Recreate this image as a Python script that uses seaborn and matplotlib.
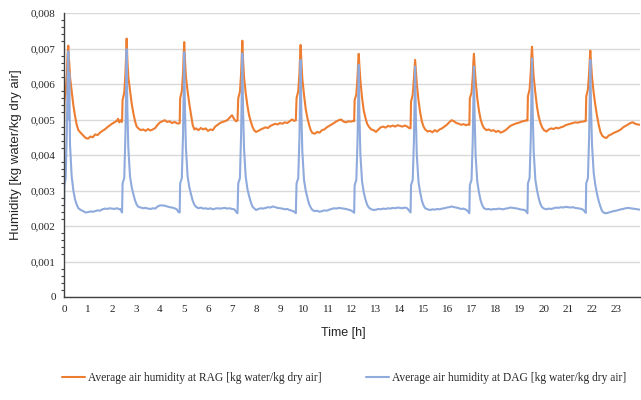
import numpy as np
import pandas as pd
import matplotlib
matplotlib.use("Agg")
import matplotlib.pyplot as plt
from matplotlib.ticker import FuncFormatter, MultipleLocator
import seaborn as sns

# time [h], humidity in g water / kg dry air (converted to kg/kg below)
hours = [
    0.00, 0.02, 0.07, 0.12, 0.15, 0.18, 0.20, 0.22, 0.25, 0.32, 0.39, 0.46, 0.53, 0.60, 0.70, 0.80,
    0.90, 1.00, 1.10, 1.20, 1.30, 1.40, 1.50, 1.60, 1.70, 1.80, 1.90, 2.00, 2.10, 2.20, 2.25, 2.30,
    2.35, 2.40, 2.42,
    2.44, 2.51, 2.56, 2.59, 2.61, 2.64, 2.68, 2.75, 2.82, 2.89, 2.96, 3.03, 3.10, 3.20, 3.30, 3.40,
    3.50, 3.60, 3.70, 3.80, 3.90, 4.00, 4.10, 4.20, 4.30, 4.40, 4.50, 4.60, 4.70, 4.76, 4.82,
    4.84, 4.91, 4.96, 4.99, 5.01, 5.04, 5.08, 5.15, 5.22, 5.29, 5.36, 5.43, 5.50, 5.60, 5.70, 5.80,
    5.90, 6.00, 6.10, 6.20, 6.30, 6.40, 6.50, 6.60, 6.70, 6.80, 6.90, 7.00, 7.10, 7.17, 7.23,
    7.26, 7.33, 7.38, 7.41, 7.43, 7.46, 7.50, 7.57, 7.64, 7.71, 7.78, 7.85, 7.92, 8.00, 8.10, 8.20,
    8.30, 8.40, 8.50, 8.60, 8.70, 8.80, 8.90, 9.00, 9.10, 9.20, 9.30, 9.40, 9.50, 9.60, 9.66,
    9.69, 9.76, 9.81, 9.84, 9.86, 9.89, 9.93, 10.00, 10.07, 10.14, 10.21, 10.28, 10.35, 10.45, 10.55, 10.65,
    10.75, 10.85, 10.95, 11.05, 11.15, 11.25, 11.35, 11.45, 11.55, 11.65, 11.75, 11.85, 11.95, 12.05, 12.09,
    12.11, 12.18, 12.23, 12.26, 12.28, 12.31, 12.35, 12.42, 12.49, 12.56, 12.63, 12.70, 12.80, 12.90, 13.00, 13.10,
    13.20, 13.30, 13.40, 13.50, 13.60, 13.70, 13.80, 13.90, 14.00, 14.10, 14.20, 14.30, 14.38, 14.44,
    14.46, 14.53, 14.58, 14.61, 14.63, 14.66, 14.70, 14.77, 14.84, 14.91, 14.98, 15.05, 15.15, 15.25, 15.35, 15.45,
    15.55, 15.65, 15.75, 15.85, 15.95, 16.05, 16.15, 16.25, 16.35, 16.45, 16.55, 16.65, 16.75, 16.85, 16.89,
    16.91, 16.98, 17.03, 17.06, 17.08, 17.11, 17.15, 17.22, 17.29, 17.36, 17.43, 17.50, 17.60, 17.70, 17.80, 17.90,
    18.00, 18.10, 18.20, 18.30, 18.40, 18.50, 18.60, 18.70, 18.80, 18.90, 19.00, 19.10, 19.20, 19.27, 19.31,
    19.33, 19.40, 19.45, 19.48, 19.50, 19.53, 19.57, 19.64, 19.71, 19.78, 19.85, 19.92, 20.00, 20.10, 20.20, 20.30,
    20.40, 20.50, 20.60, 20.70, 20.80, 20.90, 21.00, 21.10, 21.20, 21.30, 21.40, 21.50, 21.60, 21.70, 21.74,
    21.76, 21.83, 21.88, 21.91, 21.93, 21.96, 22.00, 22.07, 22.14, 22.21, 22.28, 22.35, 22.42, 22.50, 22.60, 22.70,
    22.80, 22.90, 23.00, 23.10, 23.20, 23.30, 23.40, 23.50, 23.60, 23.70, 23.80, 23.90, 24.00,
]

rag = [
    4.88, 5.55, 5.75, 6.30, 6.85, 7.08, 6.70, 6.60, 6.20, 5.80, 5.40, 5.10, 4.85, 4.70, 4.62, 4.55,
    4.48, 4.46, 4.52, 4.50, 4.58, 4.56, 4.63, 4.68, 4.72, 4.78, 4.83, 4.88, 4.92, 4.96, 5.02, 4.92,
    4.98, 4.93, 4.95,
    5.55, 5.75, 6.30, 6.90, 7.28, 6.70, 6.20, 5.83, 5.45, 5.18, 4.95, 4.80, 4.75, 4.70, 4.72, 4.68,
    4.73, 4.69, 4.72, 4.76, 4.85, 4.92, 4.95, 4.98, 4.93, 4.95, 4.90, 4.93, 4.90, 4.88, 4.90,
    5.60, 5.80, 6.30, 6.90, 7.18, 6.70, 6.20, 5.80, 5.45, 5.15, 4.85, 4.72, 4.75, 4.70, 4.76, 4.72,
    4.75, 4.68, 4.72, 4.70, 4.80, 4.85, 4.90, 4.93, 4.95, 4.98, 5.05, 5.12, 5.00, 4.95, 4.97,
    5.60, 5.78, 6.30, 6.90, 7.22, 6.70, 6.20, 5.75, 5.40, 5.12, 4.95, 4.80, 4.70, 4.65, 4.68, 4.72,
    4.75, 4.78, 4.76, 4.82, 4.85, 4.88, 4.86, 4.90, 4.88, 4.92, 4.90, 4.95, 5.00, 4.96, 4.98,
    5.60, 5.80, 6.30, 6.85, 7.10, 6.65, 6.15, 5.70, 5.30, 5.05, 4.85, 4.70, 4.62, 4.60, 4.65, 4.63,
    4.70, 4.72, 4.78, 4.82, 4.86, 4.90, 4.95, 4.98, 5.00, 4.94, 4.92, 4.95, 4.94, 4.96, 4.95,
    5.55, 5.70, 6.20, 6.65, 6.85, 6.50, 6.10, 5.60, 5.25, 5.05, 4.88, 4.80, 4.72, 4.70, 4.65, 4.72,
    4.78, 4.80, 4.77, 4.82, 4.80, 4.83, 4.80, 4.84, 4.82, 4.80, 4.83, 4.80, 4.76, 4.75,
    5.50, 5.70, 6.15, 6.50, 6.68, 6.40, 6.00, 5.55, 5.20, 4.95, 4.80, 4.72, 4.66, 4.68, 4.64, 4.70,
    4.66, 4.72, 4.75, 4.80, 4.85, 4.92, 4.98, 4.95, 4.90, 4.88, 4.85, 4.87, 4.84, 4.86, 4.85,
    5.60, 5.75, 6.20, 6.65, 6.85, 6.50, 6.10, 5.60, 5.25, 5.00, 4.85, 4.76, 4.70, 4.72, 4.68, 4.70,
    4.65, 4.68, 4.63, 4.66, 4.70, 4.76, 4.82, 4.85, 4.88, 4.90, 4.92, 4.95, 4.96, 4.98, 4.97,
    5.65, 5.85, 6.35, 6.85, 7.05, 6.65, 6.20, 5.75, 5.35, 5.08, 4.90, 4.78, 4.70, 4.66, 4.72, 4.75,
    4.73, 4.77, 4.75, 4.78, 4.80, 4.84, 4.86, 4.88, 4.90, 4.92, 4.91, 4.93, 4.94, 4.95, 4.96,
    5.65, 5.85, 6.30, 6.75, 6.94, 6.60, 6.20, 5.75, 5.40, 5.10, 4.85, 4.65, 4.55, 4.50, 4.48, 4.55,
    4.58, 4.62, 4.65, 4.68, 4.72, 4.78, 4.82, 4.86, 4.90, 4.92, 4.88, 4.86, 4.85,
]

dag = [
    2.45, 3.15, 3.35, 4.70, 6.20, 6.92, 5.00, 6.30, 4.30, 3.40, 3.00, 2.75, 2.60, 2.50, 2.45, 2.42,
    2.38, 2.39, 2.41, 2.40, 2.42, 2.44, 2.43, 2.47, 2.49, 2.48, 2.50, 2.49, 2.48, 2.50, 2.49, 2.47,
    2.48, 2.40, 2.38,
    3.20, 3.35, 4.60, 6.10, 6.98, 5.30, 4.20, 3.40, 3.10, 2.90, 2.72, 2.60, 2.54, 2.52, 2.50, 2.51,
    2.49, 2.48, 2.50, 2.49, 2.55, 2.58, 2.58, 2.57, 2.55, 2.53, 2.52, 2.50, 2.47, 2.40, 2.38,
    3.20, 3.35, 4.60, 6.10, 6.90, 5.30, 4.20, 3.40, 3.10, 2.90, 2.72, 2.60, 2.54, 2.50, 2.52, 2.49,
    2.50, 2.48, 2.50, 2.47, 2.49, 2.50, 2.49, 2.50, 2.51, 2.49, 2.50, 2.48, 2.47, 2.40, 2.36,
    3.20, 3.35, 4.60, 6.00, 6.86, 5.30, 4.20, 3.40, 3.05, 2.85, 2.68, 2.55, 2.50, 2.45, 2.48, 2.50,
    2.49, 2.51, 2.53, 2.52, 2.55, 2.53, 2.51, 2.50, 2.49, 2.47, 2.48, 2.45, 2.43, 2.40, 2.36,
    3.20, 3.35, 4.50, 5.90, 6.68, 5.20, 4.10, 3.30, 3.00, 2.80, 2.62, 2.52, 2.45, 2.42, 2.43, 2.40,
    2.42, 2.44, 2.43, 2.46, 2.48, 2.50, 2.49, 2.51, 2.50, 2.49, 2.48, 2.46, 2.44, 2.40, 2.37,
    3.15, 3.30, 4.40, 5.80, 6.54, 5.10, 4.00, 3.25, 2.95, 2.75, 2.60, 2.52, 2.47, 2.45, 2.46, 2.48,
    2.47, 2.49, 2.48, 2.50, 2.49, 2.51, 2.50, 2.52, 2.51, 2.50, 2.52, 2.50, 2.43, 2.38,
    3.15, 3.30, 4.40, 5.70, 6.49, 5.10, 4.00, 3.25, 2.95, 2.72, 2.58, 2.50, 2.47, 2.45, 2.47, 2.46,
    2.48, 2.47, 2.49, 2.50, 2.52, 2.53, 2.55, 2.53, 2.52, 2.50, 2.48, 2.49, 2.46, 2.40, 2.36,
    3.15, 3.30, 4.40, 5.70, 6.49, 5.10, 4.00, 3.25, 2.95, 2.72, 2.58, 2.50, 2.47, 2.48, 2.46, 2.48,
    2.47, 2.49, 2.48, 2.47, 2.49, 2.50, 2.52, 2.51, 2.50, 2.49, 2.47, 2.46, 2.45, 2.40, 2.36,
    3.20, 3.35, 4.50, 5.90, 6.72, 5.20, 4.10, 3.30, 3.00, 2.78, 2.62, 2.53, 2.49, 2.47, 2.49, 2.48,
    2.50, 2.52, 2.51, 2.53, 2.52, 2.54, 2.53, 2.52, 2.53, 2.51, 2.50, 2.49, 2.47, 2.41, 2.37,
    3.20, 3.35, 4.50, 5.90, 6.68, 5.30, 4.30, 3.50, 3.15, 2.90, 2.70, 2.55, 2.42, 2.37, 2.36, 2.38,
    2.40, 2.42, 2.43, 2.45, 2.47, 2.48, 2.50, 2.51, 2.50, 2.49, 2.48, 2.47, 2.46,
]

rag_label = "Average air humidity at RAG [kg water/kg dry air]"
dag_label = "Average air humidity at DAG [kg water/kg dry air]"

df = pd.DataFrame({
    "hours": hours,
    "rag": np.array(rag) / 1000,
    "dag": np.array(dag) / 1000,
})

sns.set_style("white")

fig = plt.figure(figsize=(6.41, 4.0), dpi=100)
ax = fig.add_axes([64 / 641, 1 - 297 / 400, 576 / 641, 284 / 400])

sns.lineplot(data=df, x="hours", y="rag", ax=ax, color="#ED7D31", lw=1.5, label=rag_label)
sns.lineplot(data=df, x="hours", y="dag", ax=ax, color="#8FAADC", lw=1.5, label=dag_label)

ax.set_xlim(0, 24)
ax.set_ylim(0, 0.008)
ax.set_xticks(range(24))
ax.yaxis.set_major_locator(MultipleLocator(0.001))
ax.yaxis.set_minor_locator(MultipleLocator(0.0002))


def comma_fmt(v, pos):
    if abs(v) < 1e-12:
        return "0"
    return f"{v:.3f}".replace(".", ",")


ax.yaxis.set_major_formatter(FuncFormatter(comma_fmt))

ax.grid(axis="y", color="#D9D9D9", lw=1.0)
ax.set_axisbelow(True)
for s in ["top", "right"]:
    ax.spines[s].set_visible(False)
for s in ["left", "bottom"]:
    ax.spines[s].set_color("#404040")
    ax.spines[s].set_linewidth(1.0)

ax.tick_params(axis="y", which="major", direction="out", length=4, width=0.8,
               color="#404040", labelsize=8, pad=2)
ax.tick_params(axis="y", which="minor", direction="out", length=2.5, width=0.8,
               color="#404040", left=True)
ax.tick_params(axis="x", which="major", direction="in", length=3, width=0.8,
               color="#404040", labelsize=8, pad=6)
for lab in ax.get_xticklabels() + ax.get_yticklabels():
    lab.set_family("Liberation Serif")
    lab.set_color("#262626")

ax.set_xlabel("")
ax.set_ylabel("Humidity [kg water/kg dry air]", family="Liberation Sans",
              fontsize=9.5, color="#262626", labelpad=6)
fig.text(343 / 641, 1 - 333 / 400, "Time [h]", family="Liberation Sans",
         fontsize=9, color="#262626", ha="center", va="center")

ax.get_legend().remove()
handles, labels = ax.get_legend_handles_labels()
fig.legend(handles, labels, loc="center", bbox_to_anchor=(344 / 641, 1 - 378 / 400),
           ncol=2, frameon=False, prop={"family": "Liberation Serif", "size": 8.3},
           handlelength=2.0, handletextpad=0.3, columnspacing=3.8)

fig.savefig("out.png", dpi=100)
